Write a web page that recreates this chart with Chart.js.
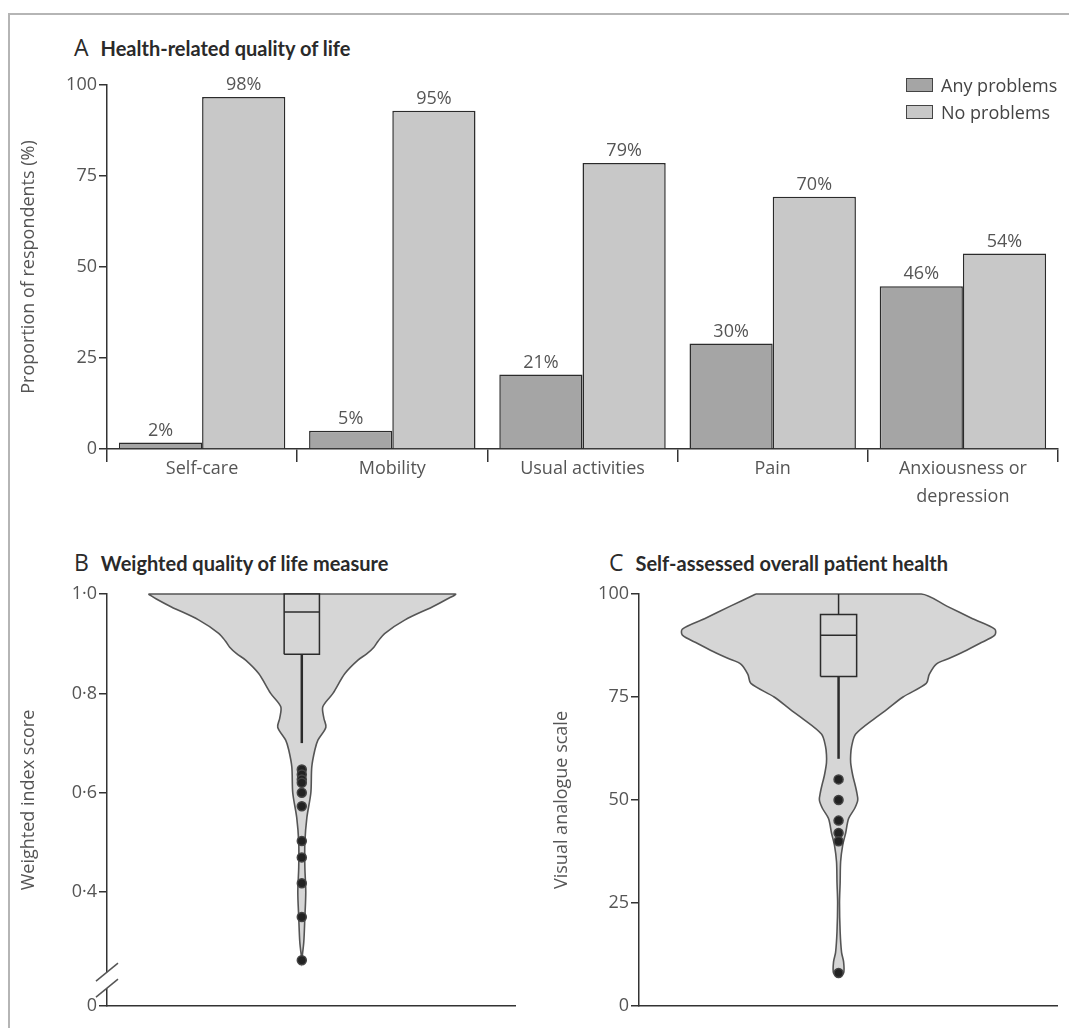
<!DOCTYPE html>
<html>
<head>
<meta charset="utf-8">
<script src="https://cdn.jsdelivr.net/npm/chart.js@4.4.0/dist/chart.umd.min.js"></script>
<style>
  body { margin: 0; background: #fff; }
  #page { position: relative; width: 1069px; height: 1028px; overflow: hidden; font-family: 'Open Sans', sans-serif; }
  .frame { position: absolute; left: 8px; top: 13px; width: 1100px; height: 1100px; border-left: 2px solid #b5b5b5; border-top: 2px solid #b5b5b5; }
  canvas { position: absolute; }
  .ttl { position: absolute; white-space: nowrap; color: #2a2a2a; line-height: 30px; }
  .ttl .l { font-family: 'Open Sans', sans-serif; font-size: 23px; font-weight: 400; margin-right: 12px; }
  .ttl .t { font-family: Lato, sans-serif; font-size: 20px; font-weight: 700; }
  #legendA { position: absolute; left: 906px; top: 71px; font-size: 18px; color: #444; }
  #legendA div { height: 27px; display: flex; align-items: center; }
  #legendA span.box { display: inline-block; width: 25px; height: 12px; border: 1px solid #444; margin-right: 8px; }
</style>
</head>
<body>
<div id="page">
  <div class="frame"></div>
  <div class="ttl" style="left:74px;top:32px"><span class="l">A</span><span class="t">Health-related quality of life</span></div>
  <div class="ttl" style="left:74px;top:547px"><span class="l">B</span><span class="t">Weighted quality of life measure</span></div>
  <div class="ttl" style="left:609px;top:547px"><span class="l">C</span><span class="t">Self-assessed overall patient health</span></div>
  <canvas id="chartA" width="1069" height="520" style="left:0;top:0"></canvas>
  <canvas id="chartB" width="535" height="508" style="left:0;top:520px"></canvas>
  <canvas id="chartC" width="534" height="508" style="left:535px;top:520px"></canvas>
  <div id="legendA"></div>
</div>
<script>
// Panel A: proportion of respondents
const categorias = ['Self-care', 'Mobility', 'Usual activities', 'Pain', ['Anxiousness or', 'depression']];
const conProblemas = [1.8, 5.0, 20.5, 29.0, 44.7];
const sinProblemas = [96.7, 92.9, 78.6, 69.3, 53.7];
const etiquetasCon = ['2%', '5%', '21%', '30%', '46%'];
const etiquetasSin = ['98%', '95%', '79%', '70%', '54%'];
const ticksA = [0, 25, 50, 75, 100];

// Panel B: weighted index score (violin = value / relative density)
const violinBValores = [1.0, 0.99, 0.974, 0.948, 0.921, 0.905, 0.893, 0.88, 0.867, 0.84, 0.80, 0.773, 0.75, 0.732, 0.706, 0.686, 0.652, 0.6, 0.55, 0.5, 0.45, 0.4, 0.35, 0.30, 0.264];
const violinBDensidad = [1.0, 0.948, 0.85, 0.673, 0.542, 0.497, 0.47, 0.425, 0.366, 0.281, 0.203, 0.137, 0.144, 0.157, 0.105, 0.085, 0.065, 0.059, 0.033, 0.02, 0.02, 0.026, 0.02, 0.013, 0.0];
const cajaB = { bajo: 0.70, q1: 0.879, mediana: 0.964, q3: 1.0, alto: 1.0 };
const atipicosB = [0.647, 0.637, 0.627, 0.62, 0.60, 0.573, 0.503, 0.47, 0.418, 0.35, 0.263];
const ticksB = [0.4, 0.6, 0.8, 1.0];
const minB = 0.171;
const corteB = [0.239, 0.207];

// Panel C: visual analogue scale
const violinCValores = [100, 97, 94, 91.5, 90, 88, 86, 84.4, 83, 80.5, 78.3, 75, 72, 70, 66, 63, 61, 59, 56, 54, 52, 50, 48, 45.5, 42, 39, 35, 30, 25, 18, 13, 10.7, 8, 7];
const violinCDensidad = [0.526, 0.692, 0.853, 0.994, 0.994, 0.897, 0.795, 0.705, 0.622, 0.577, 0.558, 0.41, 0.308, 0.237, 0.109, 0.083, 0.077, 0.077, 0.09, 0.103, 0.115, 0.122, 0.103, 0.064, 0.045, 0.026, 0.013, 0.01, 0.006, 0.01, 0.019, 0.032, 0.032, 0.0];
const cajaC = { bajo: 60, q1: 80, mediana: 90, q3: 95, alto: 100 };
const atipicosC = [55, 50, 45, 42, 40, 8];
const ticksC = [0, 25, 50, 75, 100];

const fuente = { family: "'Open Sans', sans-serif", size: 18 };
const gris = '#555';
const ejeColor = '#333';

const etiquetasBarras = {
  id: 'etiquetasBarras',
  afterDatasetsDraw(chart) {
    const ctx = chart.ctx;
    ctx.save();
    ctx.font = "18px 'Open Sans', sans-serif";
    ctx.fillStyle = gris;
    ctx.textAlign = 'center';
    ctx.textBaseline = 'bottom';
    chart.data.datasets.forEach((ds, i) => {
      chart.getDatasetMeta(i).data.forEach((barra, j) => {
        ctx.fillText(ds.etiquetas[j], barra.x, barra.y - 3);
      });
    });
    ctx.restore();
  }
};

const chartA = new Chart(document.getElementById('chartA'), {
  type: 'bar',
  data: {
    labels: categorias,
    datasets: [
      { label: 'Any problems', data: conProblemas, etiquetas: etiquetasCon, backgroundColor: '#a5a5a5', borderColor: '#2b2b2b', borderWidth: 1.5, barPercentage: 1, categoryPercentage: 0.875 },
      { label: 'No problems', data: sinProblemas, etiquetas: etiquetasSin, backgroundColor: '#c8c8c8', borderColor: '#2b2b2b', borderWidth: 1.5, barPercentage: 1, categoryPercentage: 0.875 }
    ]
  },
  options: {
    responsive: false,
    animation: false,
    layout: { padding: { left: 18, top: 85, right: 11, bottom: 0 } },
    plugins: { legend: { display: false }, tooltip: { enabled: false } },
    scales: {
      x: {
        grid: { offset: true, drawOnChartArea: false, tickLength: 13, color: ejeColor, lineWidth: 1.5 },
        border: { color: ejeColor, width: 1.5 },
        ticks: { font: { ...fuente, lineHeight: 1.6 }, color: gris, padding: -8, maxRotation: 0 },
        afterFit: s => { s.height = 71; }
      },
      y: {
        min: 0, max: 100,
        afterBuildTicks: s => { s.ticks = ticksA.map(v => ({ value: v })); },
        grid: { drawOnChartArea: false, tickLength: 8, color: ejeColor, lineWidth: 1.5 },
        border: { color: ejeColor, width: 1.5 },
        ticks: { font: fuente, color: gris, padding: 2 },
        title: { display: true, text: 'Proportion of respondents (%)', font: fuente, color: gris, padding: 0 },
        afterFit: s => { s.width = 89; }
      }
    }
  },
  plugins: [etiquetasBarras]
});

// leyenda HTML a partir de los datasets
document.getElementById('legendA').innerHTML = chartA.data.datasets.map(ds =>
  `<div><span class="box" style="background:${ds.backgroundColor}"></span>${ds.label}</div>`).join('');

function contornoViolin(valores, densidad) {
  // lado izquierdo de arriba abajo, lado derecho de abajo arriba, y se cierra por el borde superior
  const izq = valores.map((v, i) => ({ x: -densidad[i], y: v }));
  const der = valores.map((v, i) => ({ x: densidad[i], y: v })).reverse();
  return izq.concat(der, [izq[0]]);
}

function datasetsViolin(valores, densidad, caja, atipicos) {
  const h = 0.115;
  const linea = { showLine: true, pointRadius: 0, borderColor: '#2b2b2b', borderWidth: 1.5, fill: false, clip: false };
  return [
    { ...linea, data: atipicos.map(v => ({ x: 0, y: v })), showLine: false, pointRadius: 4.5, pointBackgroundColor: '#222', pointBorderColor: '#444', order: 0 },
    { ...linea, data: [{ x: -h, y: caja.mediana }, { x: h, y: caja.mediana }], order: 1 },
    { ...linea, data: [{ x: 0, y: caja.q3 }, { x: 0, y: caja.alto }], order: 1 },
    { ...linea, data: [{ x: 0, y: caja.bajo }, { x: 0, y: caja.q1 }], borderWidth: 2.5, order: 1 },
    { ...linea, data: [{ x: -h, y: caja.q1 }, { x: h, y: caja.q1 }, { x: h, y: caja.q3 }, { x: -h, y: caja.q3 }, { x: -h, y: caja.q1 }], fill: 'shape', backgroundColor: '#d6d6d6', order: 2 },
    { ...linea, data: contornoViolin(valores, densidad), tension: 0.3, borderColor: '#555', borderWidth: 1.6, fill: 'shape', backgroundColor: '#d6d6d6', order: 3 }
  ];
}

function opcionesViolin(yCfg, tituloY, padIzq, anchoY, padDer) {
  return {
    responsive: false,
    animation: false,
    layout: { padding: { left: padIzq, top: 74, right: padDer, bottom: 22 } },
    plugins: { legend: { display: false }, tooltip: { enabled: false } },
    scales: {
      x: {
        type: 'linear', min: -1.27, max: 1.39,
        ticks: { display: false }, grid: { display: false },
        border: { color: ejeColor, width: 1.5 },
        afterFit: s => { s.height = 0; }
      },
      y: {
        ...yCfg,
        grid: { drawOnChartArea: false, tickLength: 8, color: ejeColor, lineWidth: 1.5 },
        border: { color: ejeColor, width: 1.5 },
        ticks: { ...yCfg.ticks, font: fuente, color: gris, padding: 2 },
        title: { display: true, text: tituloY, font: fuente, color: gris, padding: 0 },
        afterFit: s => { s.width = anchoY; }
      }
    }
  };
}

const corteEje = {
  id: 'corteEje',
  afterDraw(chart) {
    const y = chart.scales.y;
    const ctx = chart.ctx;
    const xEje = chart.chartArea.left;
    const a = y.getPixelForValue(corteB[0]);
    const b = y.getPixelForValue(corteB[1]);
    ctx.save();
    ctx.fillStyle = '#fff';
    ctx.fillRect(xEje - 3, a, 6, b - a);
    ctx.strokeStyle = '#555';
    ctx.lineWidth = 1.5;
    [a, b].forEach(p => {
      ctx.beginPath();
      ctx.moveTo(xEje - 11, p + 9);
      ctx.lineTo(xEje + 11, p - 9);
      ctx.stroke();
    });
    ctx.restore();
  }
};

new Chart(document.getElementById('chartB'), {
  type: 'scatter',
  data: { datasets: datasetsViolin(violinBValores, violinBDensidad, cajaB, atipicosB) },
  options: opcionesViolin({
    min: minB, max: 1,
    afterBuildTicks: s => { s.ticks = [minB, ...ticksB].map(v => ({ value: v })); },
    ticks: { callback: v => v === minB ? '0' : v.toFixed(1).replace('.', '·') }
  }, 'Weighted index score', 18, 89, 20),
  plugins: [corteEje]
});

new Chart(document.getElementById('chartC'), {
  type: 'scatter',
  data: { datasets: datasetsViolin(violinCValores, violinCDensidad, cajaC, atipicosC) },
  options: opcionesViolin({
    min: 0, max: 100,
    afterBuildTicks: s => { s.ticks = ticksC.map(v => ({ value: v })); },
    ticks: {}
  }, 'Visual analogue scale', 16, 88, 12)
});
</script>
</body>
</html>
